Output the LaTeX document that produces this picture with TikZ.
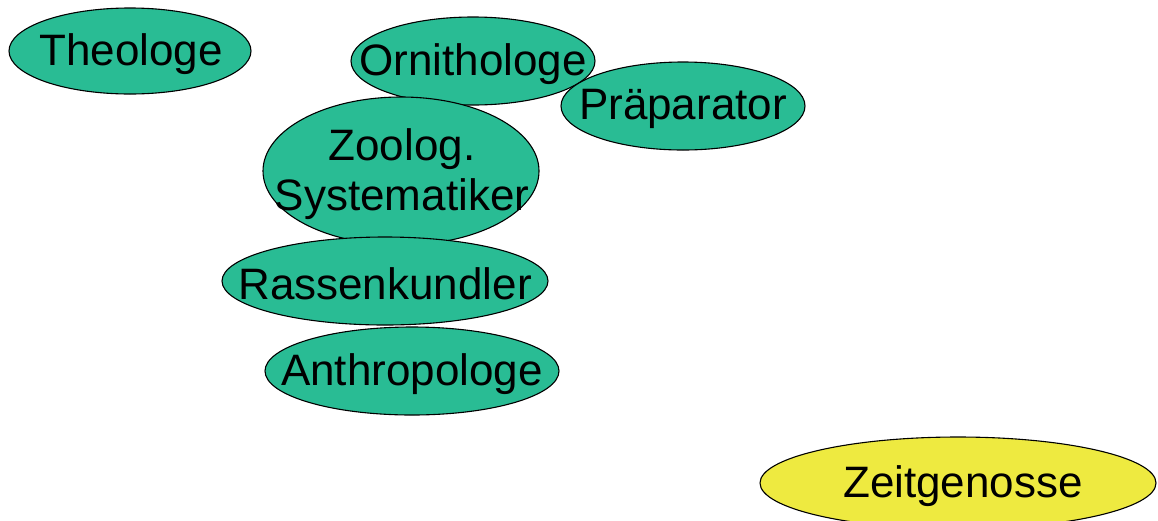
\documentclass[tikz,border=0pt]{standalone}
\usepackage{fontspec}
\setmainfont{Liberation Sans}
\definecolor{ovgreen}{RGB}{41,188,148}
\definecolor{ovyellow}{RGB}{238,234,64}
\begin{document}
\begin{tikzpicture}[x=1pt,y=-1pt,
  oval/.style={draw=black,line width=1.1pt,fill=ovgreen},
  ovaly/.style={draw=black,line width=1.1pt,fill=ovyellow},
  lbl/.style={inner sep=0pt,align=center,yshift=-3pt,font=\fontsize{44}{50}\selectfont}]
\useasboundingbox (0,0) rectangle (1158,520);
\begin{scope}
\clip (0,0) rectangle (1158,520);
\path[oval] (130,51) ellipse (121 and 43);
\node[lbl] (theo) at (131,51) {Theologe};
\path[oval] (473,61) ellipse (122 and 44);
\node[lbl] (orni) at (473,61) {Ornithologe};
\path[oval] (683,106) ellipse (122 and 44);
\node[lbl] (prae) at (683,106) {Präparator};
\path[oval] (401,171) ellipse (138 and 74);
\node[lbl] (zoo) at (402,171) {Zoolog.\\Systematiker};
\path[oval] (385,281) ellipse (163 and 44);
\node[lbl] (rass) at (385,281) {Rassenkundler};
\path[oval] (412,371) ellipse (147 and 44);
\node[lbl] (anth) at (412,371) {Anthropologe};
\path[ovaly] (958,483) ellipse (198 and 46);
\node[lbl] (zeit) at (963,483) {Zeitgenosse};
\end{scope}
\end{tikzpicture}
\end{document}
